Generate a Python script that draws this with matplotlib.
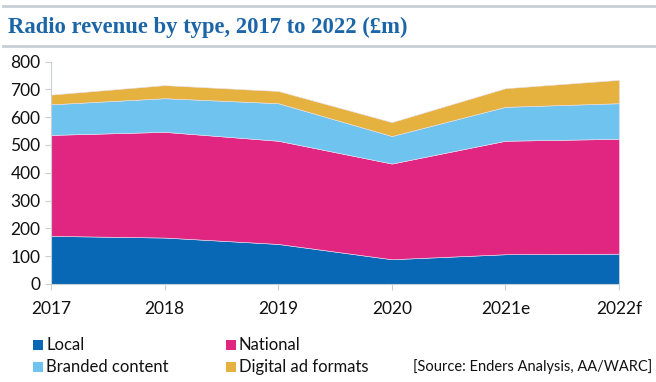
import matplotlib.pyplot as plt
from matplotlib.patches import Rectangle
from matplotlib.lines import Line2D
import numpy as np

# Datos
years = ['2017', '2018', '2019', '2020', '2021e', '2022f']
local = [173, 167, 144, 89, 107, 109]
national = [363, 380, 371, 344, 408, 413]
branded = [110, 121, 135, 99, 122, 128]
digital = [35, 47, 44, 50, 67, 84]

labels = ['Local', 'National', 'Branded content', 'Digital ad formats']
colors = ['#0868B5', '#E02681', '#6EC4EE', '#E5B23F']

W, H = 656, 382
fig = plt.figure(figsize=(W / 100, H / 100), dpi=100)

# Ejes en pixeles
left, right, top, bottom = 51, 619, 61.5, 284
ax = fig.add_axes([left / W, 1 - bottom / H, (right - left) / W, (bottom - top) / H])

x = np.arange(len(years))
ax.stackplot(x, local, national, branded, digital, colors=colors,
             edgecolor='#e8e0f0', linewidth=0.4)

ax.set_xlim(0, len(years) - 1)
ax.set_ylim(0, 800)
ax.set_yticks(range(0, 801, 100))
ax.set_xticks(x)
ax.set_xticklabels(years)

for s in ['top', 'right']:
    ax.spines[s].set_visible(False)
ax.spines['left'].set_color('#c8ced6')
ax.spines['bottom'].set_color('#c8ced6')
ax.tick_params(axis='both', colors='#c8ced6', labelcolor='#111111', length=4,
               labelsize=12.5)
ax.tick_params(axis='x', pad=8)
for lab in ax.get_xticklabels() + ax.get_yticklabels():
    lab.set_family('Lato')

# Titulo y lineas grises
fig.add_artist(Line2D([3 / W, 1], [1 - 6 / H, 1 - 6 / H], color='#c8ced6', lw=2))
fig.add_artist(Line2D([3 / W, 1], [1 - 46 / H, 1 - 46 / H], color='#c8ced6', lw=2))
fig.text(8 / W, 1 - 33 / H, 'Radio revenue by type, 2017 to 2022 (£m)',
         family='Liberation Serif', weight='bold', fontsize=16.3, color='#1C66A8',
         va='baseline', ha='left')

# Leyenda manual
pos = [(33, 345), (226, 345), (33, 367), (226, 367)]
for (px, py), lab, c in zip(pos, labels, colors):
    fig.add_artist(Rectangle((px / W, 1 - (py + 5) / H), 10 / W, 10 / H,
                             facecolor=c, edgecolor='none',
                             transform=fig.transFigure))
    fig.text((px + 13) / W, 1 - py / H, lab, family='Lato', fontsize=12,
             color='#111111', va='center', ha='left')

fig.text(652 / W, 1 - 367 / H, '[Source: Enders Analysis, AA/WARC]',
         family='Lato', fontsize=10.5, color='#111111', va='center', ha='right')

plt.savefig('out.png', dpi=100)
